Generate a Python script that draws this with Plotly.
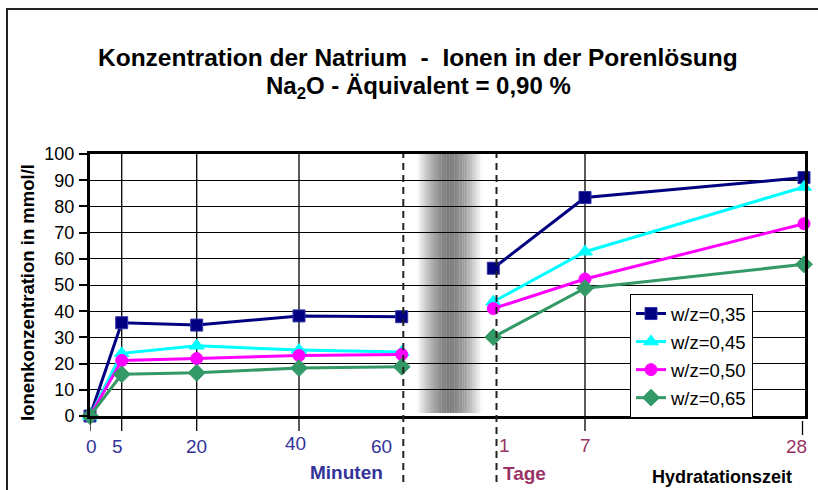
import plotly.graph_objects as go

# ---------------- data ----------------
minutes = [0, 5, 20, 40, 60]          # Minuten
days = [1, 7, 28]                      # Tage
series_names = ["w/z=0,35", "w/z=0,45", "w/z=0,50", "w/z=0,65"]
vals_min_035 = [0, 35.6, 34.7, 38.2, 37.9]
vals_day_035 = [56.4, 83.4, 91.0]
vals_min_045 = [0, 23.9, 26.8, 25.2, 24.4]
vals_day_045 = [43.6, 62.7, 87.4]
vals_min_050 = [0, 21.2, 21.9, 23.1, 23.5]
vals_day_050 = [41.0, 52.3, 73.4]
vals_min_065 = [0, 15.9, 16.5, 18.3, 18.8]
vals_day_065 = [30.1, 48.8, 57.9]

# ---------------- layout constants ----------------
W, H = 818, 490
L, R, T, B = 90, 13, 154, 74
PW = W - L - R
PH = H - T - B

# horizontal slot (pixel offset from plot left) of each time category
slot_min = {0: 0, 5: 31.7, 20: 106.7, 40: 209, 60: 311.7}
slot_day = {1: 403.3, 7: 495, 28: 714}

def px(x):  # absolute pixel x -> paper
    return (x - L) / PW

def py(y):  # absolute pixel y -> paper
    return (H - B - y) / PH

colors = ["#000080", "#00FFFF", "#FF00FF", "#339966"]
symbols = ["square", "triangle-up", "circle", "diamond"]
msizes = [12, 13, 12, 13]
all_vals = [(vals_min_035, vals_day_035), (vals_min_045, vals_day_045),
            (vals_min_050, vals_day_050), (vals_min_065, vals_day_065)]

fig = go.Figure()
for name, c, s, ms, (vm, vd) in zip(series_names, colors, symbols, msizes, all_vals):
    xs = [slot_min[m] for m in minutes] + [None] + [slot_day[d] for d in days]
    ys = list(vm) + [None] + list(vd)
    fig.add_trace(go.Scatter(
        x=xs, y=ys, name=name, mode="lines+markers",
        line=dict(color=c, width=3),
        marker=dict(symbol=s, size=ms, color=c,
                    line=dict(color="#3333aa" if s == "square" else c, width=1)),
        cliponaxis=False, legendgroup=name, connectgaps=False,
    ))

shapes = []
# white cover over gridlines in the break area
shapes.append(dict(type="rect", xref="x", yref="paper", x0=323, x1=396.5, y0=0, y1=1,
                   fillcolor="white", line=dict(width=0), layer="between"))
# gray gradient band
band_l, band_r, band_c = 417 - L, 482 - L, 449 - L
n = 40
step = (band_r - band_l) / n
for i in range(n):
    x0 = band_l + i * step
    xc = x0 + step / 2
    if xc <= band_c:
        t = (band_c - xc) / (band_c - band_l)
    else:
        t = (xc - band_c) / (band_r - band_c)
    t = min(max(t, 0), 1)
    g = int(125 + 130 * (t ** 1.6))
    g = min(g, 255)
    shapes.append(dict(type="rect", xref="x", yref="paper", x0=x0, x1=x0 + step + 0.3,
                       y0=py(413), y1=1, fillcolor=f"rgb({g},{g},{g})",
                       line=dict(width=0), layer="between"))
# vertical grid lines
for xv in [slot_min[5], slot_min[20], slot_min[40], slot_day[7]]:
    shapes.append(dict(type="line", xref="x", yref="paper", x0=xv, x1=xv,
                       y0=py(431), y1=1, line=dict(color="black", width=1.3), layer="between"))
shapes.append(dict(type="line", xref="x", yref="paper", x0=0, x1=0,
                   y0=py(431), y1=0, line=dict(color="black", width=1.3)))
shapes.append(dict(type="line", xref="x", yref="paper", x0=712.5, x1=712.5,
                   y0=py(435), y1=py(421), line=dict(color="black", width=1.3)))
# dashed separators
for xd in [313.3, 406.5]:
    shapes.append(dict(type="line", xref="x", yref="paper", x0=xd, x1=xd,
                       y0=py(482), y1=1, line=dict(color="#222222", width=2, dash="7px,5px")))
# outer frame
shapes.append(dict(type="rect", xref="paper", yref="paper", x0=px(7), x1=px(840),
                   y0=py(510), y1=py(9), line=dict(color="#222222", width=2),
                   fillcolor="rgba(0,0,0,0)"))

FONT = "Arial, Liberation Sans, sans-serif"
ann = []
ann.append(dict(text="<b>Konzentration der Natrium  -  Ionen in der Porenlösung</b>",
                x=px(418), y=py(57.5), xref="paper", yref="paper", showarrow=False,
                font=dict(family=FONT, size=24.5, color="black"), xanchor="center", yanchor="middle"))
ann.append(dict(text="<b>Na<sub>2</sub>O - Äquivalent = 0,90 %</b>",
                x=px(418.5), y=py(87.5), xref="paper", yref="paper", showarrow=False,
                font=dict(family=FONT, size=24, color="black"), xanchor="center", yanchor="middle"))
ann.append(dict(text="<b>Ionenkonzentration in mmol/l</b>", textangle=-90,
                x=px(27), y=py(293), xref="paper", yref="paper", showarrow=False,
                font=dict(family=FONT, size=18.5, color="black"), xanchor="center", yanchor="middle"))
# x tick labels
min_label_pos = {0: (91.7, 446), 5: (117.3, 446), 20: (196.7, 446), 40: (295, 443), 60: (381.7, 446)}
day_label_pos = {1: (504, 445), 7: (585, 445), 28: (796.7, 446.5)}
for m in minutes:
    xx, yy = min_label_pos[m]
    ann.append(dict(text=str(m), x=px(xx), y=py(yy), xref="paper", yref="paper", showarrow=False,
                    font=dict(family=FONT, size=19, color="#333399"), xanchor="center", yanchor="middle"))
for d in days:
    xx, yy = day_label_pos[d]
    ann.append(dict(text=str(d), x=px(xx), y=py(yy), xref="paper", yref="paper", showarrow=False,
                    font=dict(family=FONT, size=19, color="#993366"), xanchor="center", yanchor="middle"))
ann.append(dict(text="<b>Minuten</b>", x=px(346), y=py(472), xref="paper", yref="paper", showarrow=False,
                font=dict(family=FONT, size=19, color="#333399"), xanchor="center", yanchor="middle"))
ann.append(dict(text="<b>Tage</b>", x=px(524), y=py(473), xref="paper", yref="paper", showarrow=False,
                font=dict(family=FONT, size=19, color="#993366"), xanchor="center", yanchor="middle"))
ann.append(dict(text="<b>Hydratationszeit</b>", x=px(722), y=py(477), xref="paper", yref="paper",
                showarrow=False, font=dict(family=FONT, size=18, color="black"),
                xanchor="center", yanchor="middle"))

fig.update_layout(
    width=W, height=H, margin=dict(l=L, r=R, t=T, b=B, autoexpand=False),
    paper_bgcolor="white", plot_bgcolor="white",
    font=dict(family=FONT, color="black"),
    showlegend=True,
    legend=dict(x=px(630), y=py(294), xanchor="left", yanchor="top",
                bgcolor="white", bordercolor="black", borderwidth=1,
                font=dict(family=FONT, size=18.5, color="black"),
                tracegroupgap=1, itemwidth=30),
    shapes=shapes, annotations=ann,
)
fig.update_xaxes(range=[0, PW], showgrid=False, zeroline=False, showticklabels=False,
                 ticks="", showline=True, linecolor="black", linewidth=3, mirror=True, fixedrange=True)
fig.update_yaxes(range=[0, 100], tick0=0, dtick=10, showgrid=True, gridcolor="black", gridwidth=1,
                 zeroline=False, showline=True, linecolor="black", linewidth=3, mirror=True,
                 ticks="outside", ticklen=8, tickwidth=1.5, tickcolor="black", fixedrange=True,
                 tickfont=dict(family=FONT, size=18, color="black"), ticklabelstandoff=1)

fig.write_html("out.html", config={"displayModeBar": False},
               post_script="document.body.style.margin='0';document.body.style.padding='0';")
